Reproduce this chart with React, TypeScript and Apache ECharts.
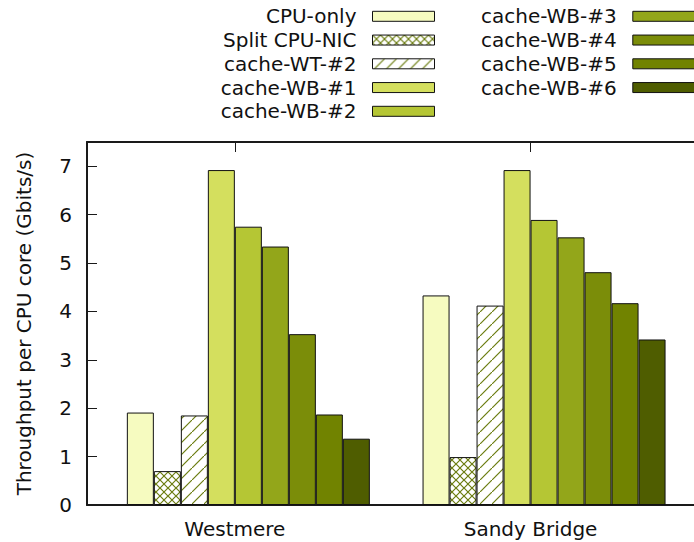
import React, { useEffect, useRef } from 'react';
import * as echarts from 'echarts';

const categories = ['Westmere', 'Sandy Bridge'];
const seriesNames = [
  'CPU-only',
  'Split CPU-NIC',
  'cache-WT-#2',
  'cache-WB-#1',
  'cache-WB-#2',
  'cache-WB-#3',
  'cache-WB-#4',
  'cache-WB-#5',
  'cache-WB-#6',
];
const cpuOnly = [1.91, 4.33];
const splitCpuNic = [0.7, 0.99];
const cacheWT2 = [1.85, 4.12];
const cacheWB1 = [6.92, 6.92];
const cacheWB2 = [5.75, 5.89];
const cacheWB3 = [5.34, 5.53];
const cacheWB4 = [3.53, 4.81];
const cacheWB5 = [1.87, 4.17];
const cacheWB6 = [1.37, 3.42];
const seriesValues = [cpuOnly, splitCpuNic, cacheWT2, cacheWB1, cacheWB2, cacheWB3, cacheWB4, cacheWB5, cacheWB6];
const fillColors = ['#f6fbc0', 'cross', 'diag', '#d4df5e', '#b5c634', '#93a61a', '#7b8d09', '#718300', '#4f5d00'];
const hatchColor = '#6b7c10';
const FONT = 'DejaVu Sans';

function makeCross(): HTMLCanvasElement {
  const s = 8;
  const c = document.createElement('canvas');
  c.width = s;
  c.height = s;
  const g = c.getContext('2d')!;
  g.fillStyle = '#ffffff';
  g.fillRect(0, 0, s, s);
  g.strokeStyle = hatchColor;
  g.lineWidth = 1.2;
  g.beginPath();
  g.moveTo(-1, -1);
  g.lineTo(s + 1, s + 1);
  g.moveTo(-1, s + 1);
  g.lineTo(s + 1, -1);
  g.stroke();
  return c;
}

function makeDiag(): HTMLCanvasElement {
  const s = 12;
  const c = document.createElement('canvas');
  c.width = s;
  c.height = s;
  const g = c.getContext('2d')!;
  g.fillStyle = '#ffffff';
  g.fillRect(0, 0, s, s);
  g.strokeStyle = hatchColor;
  g.lineWidth = 1.2;
  g.beginPath();
  g.moveTo(-1, s + 1);
  g.lineTo(s + 1, -1);
  g.stroke();
  return c;
}

export default function App() {
  const ref = useRef<HTMLDivElement>(null);
  useEffect(() => {
    if (!ref.current) return;
    document.body.style.margin = '0';
    const chart = echarts.init(ref.current, null, { renderer: 'svg' });
    const cross = makeCross();
    const diag = makeDiag();
    const colorOf = (c: string): any => {
      if (c === 'cross') return { image: cross, repeat: 'repeat' };
      if (c === 'diag') return { image: diag, repeat: 'repeat' };
      return c;
    };
    const axisColor = '#1a1a1a';
    const gridLeft = 87;
    const gridTop = 142;
    const gridBottom = 37;
    const gridWidth = 591.4;
    const gridRight = 694 - gridLeft - gridWidth;

    const series: any[] = [
      {
        name: '_pad',
        type: 'bar',
        data: categories.map(() => null),
        barWidth: 27,
        barGap: 0,
        silent: true,
      },
      ...seriesNames.map((name, i) => ({
        name,
        type: 'bar',
        data: seriesValues[i],
        barWidth: 27,
        barGap: 0,
        itemStyle: {
          color: colorOf(fillColors[i]),
          borderColor: '#111',
          borderWidth: 1,
        },
      })),
    ];

    const legendCommon = {
      orient: 'vertical',
      align: 'right',
      itemWidth: 62,
      itemHeight: 10,
      itemGap: 3.75,
      padding: 0,
      top: 6.3,
      icon: 'rect',
      itemStyle: { borderColor: '#111', borderWidth: 1 },
      textStyle: {
        fontFamily: FONT,
        fontSize: 20,
        lineHeight: 20,
        color: '#111',
        padding: [0, 11, 0, 0],
      },
    };

    chart.setOption({
      animation: false,
      backgroundColor: '#ffffff',
      textStyle: { fontFamily: FONT },
      legend: [
        { ...legendCommon, right: 259, data: seriesNames.slice(0, 5) },
        { ...legendCommon, right: -1.3, data: seriesNames.slice(5) },
      ],
      grid: {
        left: gridLeft,
        top: gridTop,
        bottom: gridBottom,
        right: gridRight,
        containLabel: false,
      },
      xAxis: [
        {
          type: 'category',
          data: categories,
          position: 'bottom',
          axisLine: { show: true, lineStyle: { color: axisColor, width: 2 } },
          axisTick: { show: false },
          axisLabel: {
            fontFamily: FONT,
            fontSize: 20,
            color: '#111',
            margin: 14,
          },
          splitLine: { show: false },
        },
        {
          type: 'category',
          data: categories,
          position: 'top',
          axisLine: { show: true, onZero: false, lineStyle: { color: axisColor, width: 2 } },
          axisTick: {
            show: true,
            inside: true,
            alignWithLabel: true,
            length: 10,
            lineStyle: { color: axisColor, width: 1 },
          },
          axisLabel: { show: false },
          splitLine: { show: false },
        },
      ],
      yAxis: {
        type: 'value',
        min: 0,
        max: 7.5,
        interval: 1,
        name: 'Throughput per CPU core (Gbits/s)',
        nameLocation: 'middle',
        nameGap: 53,
        nameTextStyle: { fontFamily: FONT, fontSize: 20, color: '#111' },
        axisLine: { show: true, lineStyle: { color: axisColor, width: 2 } },
        axisTick: { show: true, inside: true, length: 10, lineStyle: { color: axisColor, width: 1 } },
        axisLabel: {
          fontFamily: FONT,
          fontSize: 20,
          color: '#111',
          margin: 15,
          showMaxLabel: false,
        },
        splitLine: { show: false },
      },
      graphic: [
        {
          type: 'line',
          shape: { x1: gridLeft + gridWidth - 1, y1: gridTop, x2: 700, y2: gridTop },
          style: { stroke: axisColor, lineWidth: 2 },
          z: 10,
        },
        {
          type: 'line',
          shape: { x1: gridLeft + gridWidth - 1, y1: 542 - gridBottom, x2: 700, y2: 542 - gridBottom },
          style: { stroke: axisColor, lineWidth: 2 },
          z: 10,
        },
      ],
      series,
    });
    return () => chart.dispose();
  }, []);
  return <div ref={ref} style={{ width: 694, height: 542 }} />;
}
